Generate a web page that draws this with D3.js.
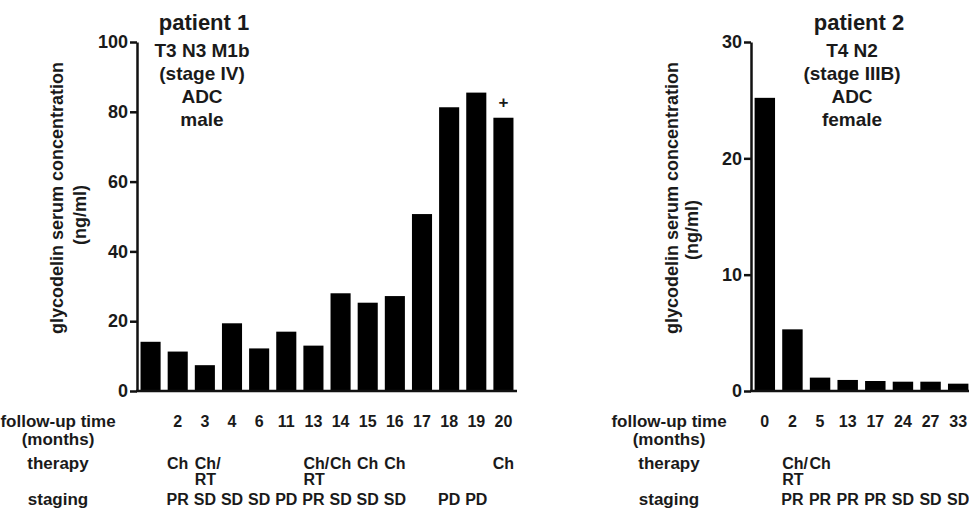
<!DOCTYPE html>
<html>
<head>
<meta charset="utf-8">
<script src="https://cdn.jsdelivr.net/npm/d3@7"></script>
<style>
  body { margin: 0; background: #fff; }
  svg { display: block; }
  text { font-family: "Liberation Sans", Arial, sans-serif; font-weight: bold; fill: #1a1a1a; }
</style>
</head>
<body>
<div id="chart"></div>
<script>
const WIDTH = 969;
const HEIGHT = 521;

// patient 1
const p1Months = ['', '2', '3', '4', '6', '11', '13', '14', '15', '16', '17', '18', '19', '20'];
const p1Values = [14.1, 11.3, 7.4, 19.4, 12.2, 17.0, 13.0, 28.0, 25.3, 27.2, 50.7, 81.3, 85.5, 78.3];
const p1Therapy = ['', 'Ch', 'Ch/|RT', '', '', '', 'Ch/|RT', 'Ch', 'Ch', 'Ch', '', '', '', 'Ch'];
const p1Staging = ['', 'PR', 'SD', 'SD', 'SD', 'PD', 'PR', 'SD', 'SD', 'SD', '', 'PD', 'PD', ''];
const p1Marks = ['', '', '', '', '', '', '', '', '', '', '', '', '', '+'];
const p1Info = ['T3 N3 M1b', '(stage IV)', 'ADC', 'male'];
const p1Ticks = [0, 20, 40, 60, 80, 100];

// patient 2
const p2Months = ['0', '2', '5', '13', '17', '24', '27', '33'];
const p2Values = [25.2, 5.3, 1.15, 0.95, 0.86, 0.8, 0.8, 0.63];
const p2Therapy = ['', 'Ch/|RT', 'Ch', '', '', '', '', ''];
const p2Staging = ['', 'PR', 'PR', 'PR', 'PR', 'SD', 'SD', 'SD'];
const p2Marks = ['', '', '', '', '', '', '', ''];
const p2Info = ['T4 N2', '(stage IIIB)', 'ADC', 'female'];
const p2Ticks = [0, 10, 20, 30];

const Y_TOP = 42;
const Y_BOTTOM = 391;
const ROW_MONTHS = 421;
const ROW_MONTHS2 = 439;
const ROW_THERAPY = 463;
const ROW_THERAPY2 = 479;
const ROW_STAGING = 499;

const svg = d3.select('#chart')
  .append('svg')
  .attr('width', WIDTH)
  .attr('height', HEIGHT);

function drawPanel(p) {
  const g = svg.append('g');
  const idx = d3.range(p.values.length);

  const x = d3.scaleBand()
    .domain(idx)
    .range([p.x0, p.x1])
    .paddingInner(0.26)
    .paddingOuter(0.13);

  const y = d3.scaleLinear()
    .domain([0, p.max])
    .range([Y_BOTTOM, Y_TOP]);

  g.selectAll('rect.bar')
    .data(idx)
    .enter()
    .append('rect')
    .attr('class', 'bar')
    .attr('x', i => x(i))
    .attr('y', i => y(p.values[i]))
    .attr('width', x.bandwidth())
    .attr('height', i => y(0) - y(p.values[i]))
    .attr('fill', '#000');

  const yAxis = d3.axisLeft(y)
    .tickValues(p.ticks)
    .tickSize(7)
    .tickSizeOuter(0)
    .tickPadding(2);
  const ax = g.append('g')
    .attr('transform', `translate(${p.x0}, 0)`)
    .call(yAxis);
  ax.selectAll('path, line').attr('stroke', '#111').attr('stroke-width', 2.5);
  ax.selectAll('text')
    .style('font-size', '18px')
    .style('font-family', '"Liberation Sans", Arial, sans-serif')
    .style('font-weight', 'bold')
    .attr('fill', '#1a1a1a');

  // baseline
  g.append('line')
    .attr('x1', p.x0 - 1)
    .attr('x2', p.x1)
    .attr('y1', y(0))
    .attr('y2', y(0))
    .attr('stroke', '#111')
    .attr('stroke-width', 2.5);

  // death marker
  g.selectAll('text.mark')
    .data(idx.filter(i => p.marks[i]))
    .enter()
    .append('text')
    .attr('class', 'mark')
    .attr('x', i => x(i) + x.bandwidth() / 2)
    .attr('y', i => y(p.values[i]) - 10)
    .attr('text-anchor', 'middle')
    .style('font-size', '17px')
    .text(i => p.marks[i]);

  // titles
  g.append('text')
    .attr('x', p.titleX)
    .attr('y', 22)
    .attr('dy', '0.35em')
    .attr('text-anchor', 'middle')
    .style('font-size', '22px')
    .text(p.title);

  g.selectAll('text.info')
    .data(p.info)
    .enter()
    .append('text')
    .attr('class', 'info')
    .attr('x', p.infoX)
    .attr('y', (d, i) => 50 + i * 23)
    .attr('dy', '0.35em')
    .attr('text-anchor', 'middle')
    .style('font-size', '19px')
    .text(d => d);

  // y title
  g.append('text')
    .attr('transform', `translate(${p.yTitleX}, 198) rotate(-90)`)
    .attr('text-anchor', 'middle')
    .attr('dy', '0.35em')
    .style('font-size', '18px')
    .text('glycodelin serum concentration');
  g.append('text')
    .attr('transform', `translate(${p.yTitleX + p.unitOffX}, ${p.unitY}) rotate(-90)`)
    .attr('text-anchor', 'middle')
    .attr('dy', '0.35em')
    .style('font-size', '18px')
    .text('(ng/ml)');

  // row labels
  const rows = [
    ['follow-up time', ROW_MONTHS],
    ['(months)', ROW_MONTHS2],
    ['therapy', ROW_THERAPY],
    ['staging', ROW_STAGING]
  ];
  g.selectAll('text.rowlab')
    .data(rows)
    .enter()
    .append('text')
    .attr('class', 'rowlab')
    .attr('x', p.rowLabelX)
    .attr('y', d => d[1])
    .attr('dy', '0.35em')
    .attr('text-anchor', 'middle')
    .style('font-size', '17px')
    .text(d => d[0]);

  // follow-up months
  g.selectAll('text.month')
    .data(idx)
    .enter()
    .append('text')
    .attr('class', 'month')
    .attr('x', i => x(i) + x.bandwidth() / 2)
    .attr('y', ROW_MONTHS)
    .attr('dy', '0.35em')
    .attr('text-anchor', 'middle')
    .style('font-size', '16px')
    .text(i => p.months[i]);

  // therapy (two-line entries are left aligned to the bar)
  idx.forEach(i => {
    const t = p.therapy[i];
    if (!t) return;
    const parts = t.split('|');
    if (parts.length === 1) {
      g.append('text')
        .attr('x', x(i) + x.bandwidth() / 2)
        .attr('y', ROW_THERAPY)
        .attr('dy', '0.35em')
        .attr('text-anchor', 'middle')
        .style('font-size', '16px')
        .text(parts[0]);
    } else {
      parts.forEach((s, k) => {
        g.append('text')
          .attr('x', x(i))
          .attr('y', k === 0 ? ROW_THERAPY : ROW_THERAPY2)
          .attr('dy', '0.35em')
          .attr('text-anchor', 'start')
          .style('font-size', '16px')
          .text(s);
      });
    }
  });

  g.selectAll('text.stage')
    .data(idx.filter(i => p.staging[i]))
    .enter()
    .append('text')
    .attr('class', 'stage')
    .attr('x', i => x(i) + x.bandwidth() / 2)
    .attr('y', ROW_STAGING)
    .attr('dy', '0.35em')
    .attr('text-anchor', 'middle')
    .style('font-size', '16px')
    .text(i => p.staging[i]);
}

drawPanel({
  values: p1Values, months: p1Months, therapy: p1Therapy, staging: p1Staging,
  marks: p1Marks, info: p1Info, ticks: p1Ticks, max: 100,
  title: 'patient 1', titleX: 204, infoX: 202,
  x0: 137, x1: 517,
  yTitleX: 57, unitOffX: 23, unitY: 215,
  rowLabelX: 58
});

drawPanel({
  values: p2Values, months: p2Months, therapy: p2Therapy, staging: p2Staging,
  marks: p2Marks, info: p2Info, ticks: p2Ticks, max: 30,
  title: 'patient 2', titleX: 859, infoX: 852,
  x0: 751, x1: 972,
  yTitleX: 672, unitOffX: 20, unitY: 230,
  rowLabelX: 669
});
</script>
</body>
</html>
